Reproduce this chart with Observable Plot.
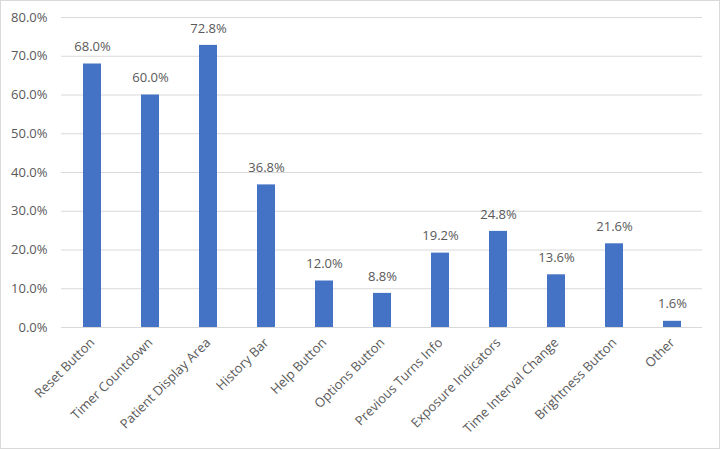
<!DOCTYPE html>
<html>
<head>
<meta charset="utf-8">
<script src="https://cdn.jsdelivr.net/npm/d3@7"></script>
<script src="https://cdn.jsdelivr.net/npm/@observablehq/plot@0.6"></script>
<style>
  html, body { margin: 0; padding: 0; background: #fff; }
  #wrap { position: relative; width: 720px; height: 449px; }
  #border { position: absolute; left: 0; top: 0; width: 720px; height: 449px; box-sizing: border-box; border: 1px solid #d9d9d9; pointer-events: none; }
  svg { display: block; }
</style>
</head>
<body>
<div id="wrap"><div id="border"></div></div>
<script>
const categories = ["Reset Button", "Timer Countdown", "Patient Display Area", "History Bar", "Help Button", "Options Button", "Previous Turns Info", "Exposure Indicators", "Time Interval Change", "Brightness Button", "Other"];
const values = [68.0, 60.0, 72.8, 36.8, 12.0, 8.8, 19.2, 24.8, 13.6, 21.6, 1.6];
const yTicks = [0, 10, 20, 30, 40, 50, 60, 70, 80];

const data = categories.map((c, i) => ({category: c, value: values[i]}));
const font = "'Open Sans', Lato, sans-serif";

const chart = Plot.plot({
  width: 720,
  height: 449,
  marginLeft: 61,
  marginRight: 18,
  marginTop: 17,
  marginBottom: 122,
  style: {fontFamily: font, fontSize: "13px", color: "#595959", background: "#fff"},
  x: {domain: categories, paddingInner: 0.69, paddingOuter: 0.345, label: null},
  y: {domain: [0, 80], label: null},
  marks: [
    Plot.gridY(yTicks, {stroke: "#d9d9d9", strokeOpacity: 1, strokeWidth: 1}),
    Plot.axisY(yTicks, {tickSize: 0, tickPadding: 14, tickFormat: d => d.toFixed(1) + "%", fill: "#595959", fontSize: 13, label: null}),
    Plot.axisX({tickSize: 0, tickRotate: -45, tickPadding: 13, fill: "#595959", fontSize: 13, label: null}),
    Plot.barY(data, {x: "category", y: "value", fill: "#4472C4"}),
    Plot.text(data, {x: "category", y: "value", text: d => d.value.toFixed(1) + "%", dy: -17, fill: "#595959", fontSize: 13})
  ]
});
document.getElementById("wrap").prepend(chart);
</script>
</body>
</html>
